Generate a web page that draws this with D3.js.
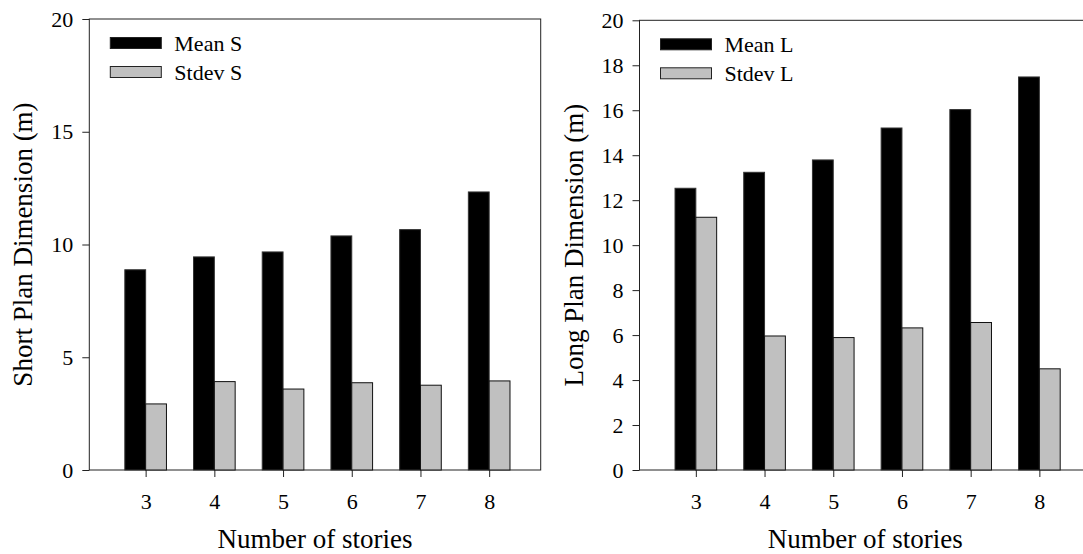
<!DOCTYPE html>
<html lang="en">
<head>
    <meta charset="UTF-8">
    <title>Plan Dimensions vs Number of Stories</title>
    <script src="https://d3js.org/d3.v7.min.js"></script>
    <style>
        body {
            margin: 0;
            background: #fff;
        }
        svg, svg text {
            font-family: 'Liberation Serif', 'Times New Roman', serif !important;
            fill: #000;
        }
    </style>
</head>
<body>
    <svg id="chart" width="1083" height="554" font-family="Liberation Serif"></svg>

    <script>
        // Data
        const stories = [3, 4, 5, 6, 7, 8];
        const meanS = [8.88, 9.45, 9.67, 10.38, 10.66, 12.33];
        const stdevS = [2.93, 3.92, 3.59, 3.87, 3.76, 3.95];
        const meanL = [12.53, 13.24, 13.79, 15.21, 16.03, 17.48];
        const stdevL = [11.24, 5.96, 5.89, 6.32, 6.56, 4.50];
        const ticksS = [0, 5, 10, 15, 20];
        const ticksL = [0, 2, 4, 6, 8, 10, 12, 14, 16, 18, 20];

        const FONT = 'Liberation Serif';
        const svg = d3.select('#chart');

        function drawPanel(opts) {
            const width = 451.4;
            const top = opts.top;
            const bottom = 470;

            const g = svg.append('g')
                .attr('transform', `translate(${opts.left},0)`);

            const x = d3.scaleLinear()
                .domain([2.18, 8.75])
                .range([0, width]);

            const y = d3.scaleLinear()
                .domain([0, 20])
                .range([bottom, top]);

            const barW = x(2.18 + 0.303) - x(2.18);

            // frame
            g.append('rect')
                .attr('x', 0)
                .attr('y', top)
                .attr('width', width)
                .attr('height', bottom - top)
                .attr('fill', 'none')
                .attr('stroke', '#222')
                .attr('stroke-width', 1);

            // bars
            g.selectAll('rect.mean')
                .data(stories)
                .enter()
                .append('rect')
                .attr('class', 'mean')
                .attr('x', d => x(d) - barW)
                .attr('y', (d, i) => y(opts.mean[i]))
                .attr('width', barW)
                .attr('height', (d, i) => y(0) - y(opts.mean[i]))
                .attr('fill', '#000')
                .attr('stroke', '#333')
                .attr('stroke-width', 1);

            g.selectAll('rect.stdev')
                .data(stories)
                .enter()
                .append('rect')
                .attr('class', 'stdev')
                .attr('x', d => x(d))
                .attr('y', (d, i) => y(opts.stdev[i]))
                .attr('width', barW)
                .attr('height', (d, i) => y(0) - y(opts.stdev[i]))
                .attr('fill', '#c0c0c0')
                .attr('stroke', '#111')
                .attr('stroke-width', 1);

            // axes
            const yAxis = g.append('g')
                .call(d3.axisLeft(y)
                    .tickValues(opts.ticks)
                    .tickSize(7)
                    .tickPadding(9)
                    .tickFormat(d3.format('d')))
                .attr('font-family', FONT)
                .attr('font-size', 22);
            yAxis.select('.domain').remove();
            yAxis.selectAll('line').attr('stroke', '#222');

            const xAxis = g.append('g')
                .attr('transform', `translate(0,${bottom})`)
                .call(d3.axisBottom(x)
                    .tickValues(stories)
                    .tickSize(7)
                    .tickPadding(16)
                    .tickFormat(d3.format('d')))
                .attr('font-family', FONT)
                .attr('font-size', 22);
            xAxis.select('.domain').remove();
            xAxis.selectAll('line').attr('stroke', '#222');

            // axis titles
            g.append('text')
                .attr('x', width / 2)
                .attr('y', 548)
                .attr('text-anchor', 'middle')
                .attr('font-family', FONT)
                .attr('font-size', 27)
                .text('Number of stories');

            g.append('text')
                .attr('transform', `translate(-57,${(top + bottom) / 2}) rotate(-90)`)
                .attr('text-anchor', 'middle')
                .attr('font-family', FONT)
                .attr('font-size', 27)
                .text(opts.yTitle);

            // legend
            const legend = g.append('g')
                .attr('transform', `translate(21,${top + 18.5})`);
            opts.legend.forEach((item, i) => {
                legend.append('rect')
                    .attr('x', 0)
                    .attr('y', i * 29)
                    .attr('width', 51)
                    .attr('height', 11)
                    .attr('fill', item.color)
                    .attr('stroke', '#222')
                    .attr('stroke-width', 1);
                legend.append('text')
                    .attr('x', 64)
                    .attr('y', i * 29 + 13)
                    .attr('font-family', FONT)
                    .attr('font-size', 22)
                    .text(item.label);
            });
        }

        drawPanel({
            left: 89.3,
            top: 19,
            mean: meanS,
            stdev: stdevS,
            ticks: ticksS,
            yTitle: 'Short Plan Dimension (m)',
            legend: [
                { label: 'Mean S', color: '#000' },
                { label: 'Stdev S', color: '#c0c0c0' }
            ]
        });

        drawPanel({
            left: 639.5,
            top: 20.3,
            mean: meanL,
            stdev: stdevL,
            ticks: ticksL,
            yTitle: 'Long Plan Dimension (m)',
            legend: [
                { label: 'Mean L', color: '#000' },
                { label: 'Stdev L', color: '#c0c0c0' }
            ]
        });
    </script>
</body>
</html>
